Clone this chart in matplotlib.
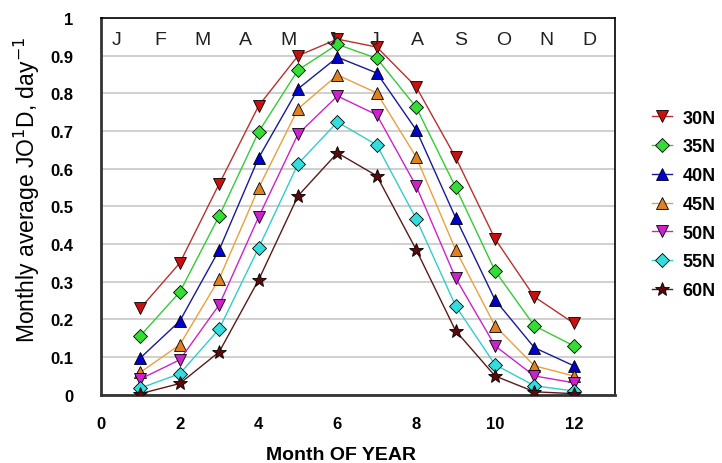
import numpy as np
import matplotlib.pyplot as plt

# data
months = [1, 2, 3, 4, 5, 6, 7, 8, 9, 10, 11, 12]
month_letters = ['J', 'F', 'M', 'A', 'M', 'J', 'J', 'A', 'S', 'O', 'N', 'D']
latitudes = ['30N', '35N', '40N', '45N', '50N', '55N', '60N']

jo1d_30n = [0.23, 0.35, 0.56, 0.767, 0.90, 0.944, 0.923, 0.817, 0.63, 0.414, 0.26, 0.19]
jo1d_35n = [0.157, 0.273, 0.475, 0.698, 0.862, 0.93, 0.893, 0.763, 0.551, 0.329, 0.183, 0.13]
jo1d_40n = [0.098, 0.196, 0.385, 0.629, 0.812, 0.896, 0.854, 0.703, 0.47, 0.252, 0.125, 0.077]
jo1d_45n = [0.06, 0.133, 0.308, 0.549, 0.759, 0.849, 0.801, 0.631, 0.385, 0.183, 0.077, 0.05]
jo1d_50n = [0.042, 0.093, 0.239, 0.472, 0.692, 0.793, 0.743, 0.554, 0.31, 0.13, 0.05, 0.032]
jo1d_55n = [0.018, 0.056, 0.175, 0.39, 0.613, 0.724, 0.663, 0.467, 0.236, 0.08, 0.024, 0.01]
jo1d_60n = [0.003, 0.03, 0.114, 0.305, 0.528, 0.642, 0.581, 0.385, 0.17, 0.05, 0.008, 0.003]

series = [jo1d_30n, jo1d_35n, jo1d_40n, jo1d_45n, jo1d_50n, jo1d_55n, jo1d_60n]
line_colors = ['#b83030', '#33cc33', '#1a1a99', '#e8a040', '#cc22cc', '#33cccc', '#5a1a1a']
marker_colors = ['#c81010', '#33dd33', '#0000cc', '#e08020', '#cc22cc', '#33dddd', '#5a0a0a']
markers = ['v', 'D', '^', '^', 'v', 'D', '*']
marker_sizes = [9, 7, 9, 9, 9, 7, 10]

narrow = ['Liberation Sans Narrow', 'Liberation Sans', 'DejaVu Sans']

fig = plt.figure(figsize=(7.22, 4.64), dpi=100)
ax = fig.add_axes([0.140, 0.147, 0.712, 0.812])

for vals, lab, lc, mc, mk, ms in zip(series, latitudes, line_colors, marker_colors, markers, marker_sizes):
    ax.plot(months, vals, color=lc, linewidth=1.0, marker=mk, markersize=ms,
            markerfacecolor=mc, markeredgecolor='black', markeredgewidth=0.6,
            label=lab, zorder=3)

ax.set_xlim(0, 13.05)
ax.set_ylim(0, 1)
ax.set_xticks([0, 2, 4, 6, 8, 10, 12])
ax.set_yticks(np.arange(0, 1.01, 0.1))
ax.set_yticklabels(['0', '0.1', '0.2', '0.3', '0.4', '0.5', '0.6', '0.7', '0.8', '0.9', '1'])
ax.tick_params(axis='y', length=0, pad=20)
ax.tick_params(axis='x', length=0, pad=15)
for lbl in ax.get_xticklabels() + ax.get_yticklabels():
    lbl.set_family(narrow)
    lbl.set_fontweight('bold')
    lbl.set_fontsize(12)

ax.yaxis.grid(True, color='#c8c8c8', linewidth=1.2)
ax.set_axisbelow(True)
ax.spines['left'].set_linewidth(2)
ax.spines['bottom'].set_linewidth(2)
ax.spines['left'].set_color('#333333')
ax.spines['bottom'].set_color('#333333')
ax.spines['top'].set_linewidth(1.2)
ax.spines['right'].set_linewidth(1.2)

# month initials across the top of the plot area
for i, m in enumerate(month_letters):
    ax.text(0.031 + 0.0835 * i, 0.965, m, transform=ax.transAxes,
            ha='center', va='top', fontsize=14, color='#222222', family='Liberation Sans')

ax.set_ylabel('Monthly average JO$^{1}$D, day$^{-1}$', fontsize=16.5, family='Liberation Sans')
ax.yaxis.set_label_coords(-0.115, 0.546)
ax.set_xlabel('Month OF YEAR', fontsize=14, family='Liberation Sans', fontweight='bold')
ax.xaxis.set_label_coords(0.467, -0.135)

leg = ax.legend(loc='upper left', bbox_to_anchor=(1.04, 0.80), frameon=False,
                prop={'family': narrow, 'weight': 'bold', 'size': 13},
                handlelength=1.1, labelspacing=0.65, handletextpad=0.6)

plt.savefig('out.png', dpi=100)
